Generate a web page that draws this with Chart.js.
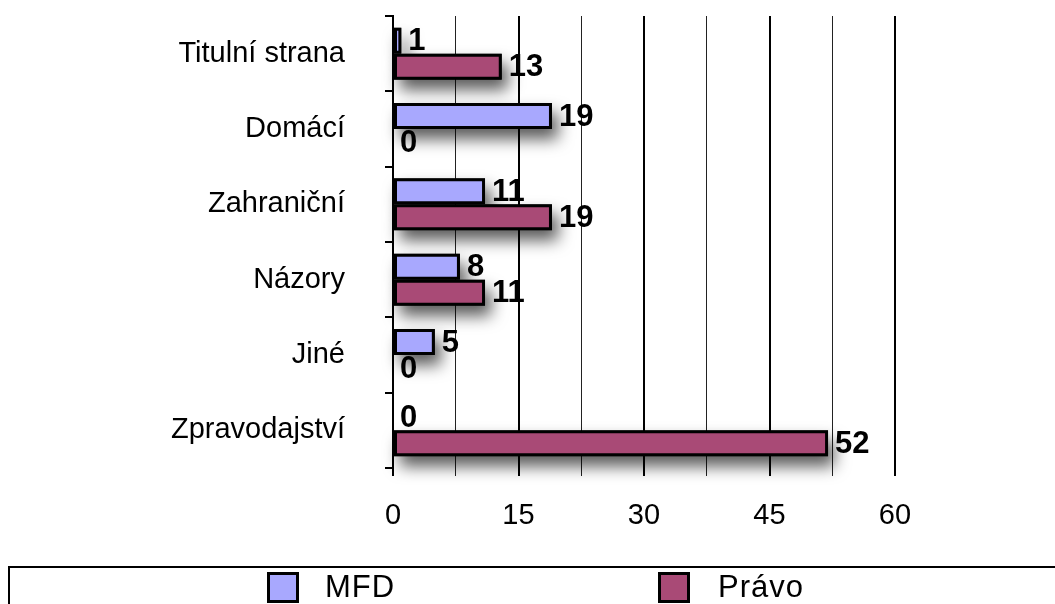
<!DOCTYPE html>
<html>
<head>
<meta charset="utf-8">
<script src="https://cdn.jsdelivr.net/npm/chart.js@4.4.1/dist/chart.umd.min.js"></script>
<style>
  html, body { margin: 0; padding: 0; background: #fff; overflow: hidden; }
  #wrap { position: relative; width: 1055px; height: 604px; overflow: hidden; }
  #legend {
    position: absolute; left: 8px; top: 566px; width: 1100px; height: 60px;
    border: 2px solid #000; box-sizing: border-box;
    font-family: "Liberation Sans", Arial, sans-serif; font-size: 31px; color: #000;
    letter-spacing: 1px;
  }
  .sw { position: absolute; top: 4px; width: 32px; height: 31px; border: 3px solid #000; box-sizing: border-box; }
  .lb { position: absolute; top: 3px; line-height: 31px; }
</style>
</head>
<body>
<div id="wrap">
  <canvas id="chart" width="1055" height="604"></canvas>
  <div id="legend"></div>
</div>
<script>
// data
const categories = ["Titulní strana", "Domácí", "Zahraniční", "Názory", "Jiné", "Zpravodajství"];
const seriesNames = ["MFD", "Právo"];
const mfdValues = [1, 19, 11, 8, 5, 0];
const pravoValues = [13, 0, 19, 11, 0, 52];
const xTickLabels = [0, 15, 30, 45, 60];

const colors = ["#a8a8fe", "#a94a76"];
const FONT = "'Liberation Sans', Arial, sans-serif";

// drop shadow behind each bar
const barShadow = {
  id: "barShadow",
  beforeDatasetsDraw(chart) {
    const ctx = chart.ctx;
    chart.data.datasets.forEach((ds, i) => {
      chart.getDatasetMeta(i).data.forEach(bar => {
        const p = bar.getProps(["x", "y", "base", "height"], true);
        const w = p.x - p.base;
        if (w <= 0) return;
        ctx.save();
        ctx.shadowColor = "rgba(0,0,0,0.65)";
        ctx.shadowBlur = 16;
        ctx.shadowOffsetX = 6;
        ctx.shadowOffsetY = 10;
        ctx.fillStyle = "#000";
        ctx.fillRect(p.base, p.y - p.height / 2, w, p.height);
        ctx.restore();
      });
    });
  }
};

// bold value next to each bar end
const valueLabels = {
  id: "valueLabels",
  afterDatasetsDraw(chart) {
    const ctx = chart.ctx;
    ctx.save();
    ctx.font = "bold 31px " + FONT;
    ctx.fillStyle = "#000";
    ctx.textAlign = "left";
    ctx.textBaseline = "middle";
    chart.data.datasets.forEach((ds, i) => {
      chart.getDatasetMeta(i).data.forEach((bar, j) => {
        const p = bar.getProps(["x", "y"], true);
        ctx.fillText(String(ds.data[j]), p.x + 7, p.y + 1);
      });
    });
    ctx.restore();
  }
};

const chart = new Chart(document.getElementById("chart"), {
  type: "bar",
  data: {
    labels: categories,
    datasets: [
      { label: seriesNames[0], data: mfdValues, backgroundColor: colors[0] },
      { label: seriesNames[1], data: pravoValues, backgroundColor: colors[1] }
    ]
  },
  options: {
    indexAxis: "y",
    responsive: false,
    animation: false,
    layout: { padding: { left: 0, right: 160, top: 16, bottom: 76 } },
    datasets: {
      bar: {
        categoryPercentage: 0.69,
        barPercentage: 1,
        borderColor: "#000",
        borderWidth: 3,
        borderSkipped: false
      }
    },
    plugins: {
      legend: { display: false },
      tooltip: { enabled: false }
    },
    scales: {
      x: {
        min: 0,
        max: 60,
        afterFit: s => { s.height = 60; s.paddingLeft = 0; s.paddingRight = 0; },
        border: { display: false },
        grid: {
          color: ctx => (ctx.tick && ctx.tick.value % 15 === 0) ? "#000" : "#222",
          lineWidth: ctx => (ctx.tick && ctx.tick.value % 15 === 0) ? 2 : 1,
          tickLength: 8
        },
        ticks: {
          stepSize: 7.5,
          padding: 23,
          color: "#000",
          font: { family: FONT, size: 29 },
          callback: v => xTickLabels.includes(v) ? String(v) : ""
        }
      },
      y: {
        afterFit: s => { s.width = 393; s.paddingTop = 0; s.paddingBottom = 0; },
        border: { display: true, color: "#000", width: 2 },
        grid: { drawOnChartArea: false, color: "#000", lineWidth: 2, tickLength: 8 },
        ticks: {
          padding: 40,
          color: "#000",
          font: { family: FONT, size: 29 }
        }
      }
    }
  },
  plugins: [barShadow, valueLabels]
});

// legend below the chart, inside a framed box
const legend = document.getElementById("legend");
const legendLeft = [[257, 315], [648, 708]];
seriesNames.forEach((name, i) => {
  const sw = document.createElement("div");
  sw.className = "sw";
  sw.style.left = legendLeft[i][0] + "px";
  sw.style.background = colors[i];
  const lb = document.createElement("div");
  lb.className = "lb";
  lb.style.left = legendLeft[i][1] + "px";
  lb.textContent = name;
  legend.appendChild(sw);
  legend.appendChild(lb);
});
</script>
</body>
</html>
